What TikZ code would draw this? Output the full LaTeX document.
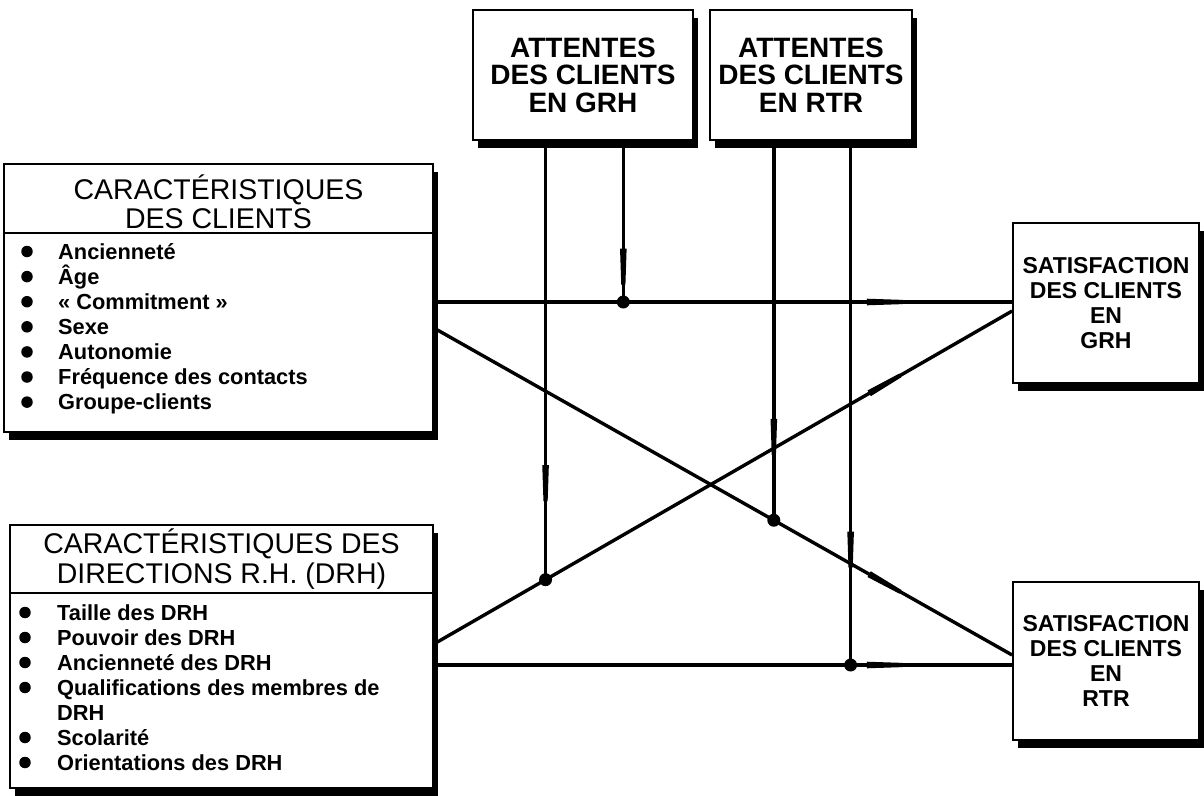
\documentclass[tikz,border=0pt]{standalone}
\usepackage{fontspec}
\setmainfont{Liberation Sans}
\usetikzlibrary{calc,shadows,decorations.markings}

\begin{document}
\begin{tikzpicture}[x=1pt,y=-1pt,
  box/.style={draw, line width=1.8pt, fill=white, inner sep=0pt, align=center,
    drop shadow={fill=black, opacity=1, shadow xshift=5pt, shadow yshift=-8pt}},
  topfont/.style={font=\fontsize{28}{27.5}\selectfont\bfseries},
  satfont/.style={font=\fontsize{23}{25}\selectfont\bfseries},
  headfont/.style={font=\fontsize{28.5}{29.5}\selectfont},
  item/.style={anchor=base west, inner sep=0pt, font=\fontsize{21.8}{25}\selectfont\bfseries},
  bullet/.style={circle, fill=black, inner sep=0pt, minimum size=11.5pt},
  link/.style={line width=3.4pt, postaction={decorate},
    decoration={markings, mark=at position 0.78 with
      {\fill (-18pt,-3.3pt) -- (18pt,-2.1pt) -- (18pt,2.1pt) -- (-18pt,3.3pt) -- cycle;}}},
  dot/.style={circle, fill=black, inner sep=0pt, minimum size=13pt}]

\useasboundingbox (0,0) rectangle (1204,795);

% expectation boxes (top)
\node[box, topfont, minimum width=220pt, minimum height=130pt] (topA) at (583,75)
  {ATTENTES\\DES CLIENTS\\EN GRH};
\node[box, topfont, minimum width=202pt, minimum height=130pt] (topB) at (811,75)
  {ATTENTES\\DES CLIENTS\\EN RTR};

% satisfaction boxes (right)
\node[box, satfont, minimum width=186pt, minimum height=160pt] (satA) at (1106,303)
  {SATISFACTION\\DES CLIENTS\\EN\\GRH};
\node[box, satfont, minimum width=186pt, minimum height=158pt] (satB) at (1106,661)
  {SATISFACTION\\DES CLIENTS\\EN\\RTR};

% client characteristics
\node[box, minimum width=429pt, minimum height=268pt] (clients) at (218.5,298) {};
\draw[line width=1.5pt] (clients.west |- 0,233) -- (clients.east |- 0,233);
\node[headfont, align=center] (clientsHead) at (clients.center |- 0,202)
  {CARACTÉRISTIQUES\\DES CLIENTS};
\foreach \t [count=\i from 0] in {Ancienneté, Âge, « Commitment », Sexe, Autonomie,
    Fréquence des contacts, Groupe-clients} {
  \node[item] (cl\i) at (58, 259+25.1*\i) {\t};
  \node[bullet] (clb\i) at (27, 251.5+25.1*\i) {};
}

% HR department characteristics
\node[box, minimum width=423pt, minimum height=263pt] (drh) at (221.5,656.5) {};
\draw[line width=1.5pt] (drh.west |- 0,593) -- (drh.east |- 0,593);
\node[headfont, align=center] (drhHead) at (drh.center |- 0,559)
  {CARACTÉRISTIQUES DES\\DIRECTIONS R.H. (DRH)};
\foreach \t/\b [count=\i from 0] in {Taille des DRH/1, Pouvoir des DRH/1,
    Ancienneté des DRH/1, Qualifications des membres de/1, DRH/0,
    Scolarité/1, Orientations des DRH/1} {
  \node[item] (dr\i) at (57, 620+25*\i) {\t};
  \ifnum\b=1 \node[bullet] (drb\i) at (25, 612.5+25*\i) {}; \fi
}

% connector end points
\coordinate (c1) at (clients.east |- 0,302);
\coordinate (g1) at (satA.west |- 0,302);
\coordinate (c2) at (clients.east |- 0,328);
\coordinate (r2) at (satB.west |- 0,655);
\coordinate (d3) at (drh.east |- 0,644);
\coordinate (g3) at (satA.west |- 0,311);
\coordinate (d4) at (drh.east |- 0,665);
\coordinate (r4) at (satB.west |- 0,665);

\draw[link] (c1) -- (g1);
\draw[link] (c2) -- (r2);
\draw[link] (d3) -- (g3);
\draw[link] (d4) -- (r4);

% moderating links
\coordinate (j1) at ($(d3)!0.1931!(g3)$);
\coordinate (j2) at ($(c1)!0.3276!(g1)$);
\coordinate (j3) at ($(c2)!0.5879!(r2)$);
\coordinate (j4) at ($(d4)!0.7207!(r4)$);

\draw[link] (topA.south -| j1) -- (j1);
\draw[link] (topA.south -| j2) -- (j2);
\draw[link] (topB.south -| j3) -- (j3);
\draw[link] (topB.south -| j4) -- (j4);

\node[dot] (m1) at (j1) {};
\node[dot] (m2) at (j2) {};
\node[dot] (m3) at (j3) {};
\node[dot] (m4) at (j4) {};
\end{tikzpicture}
\end{document}
